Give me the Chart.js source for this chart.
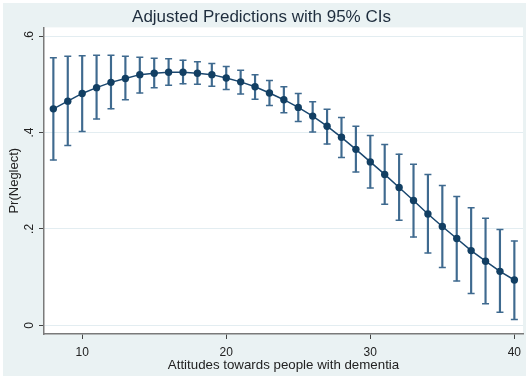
<!DOCTYPE html>
<html>
<head>
<meta charset="utf-8">
<script src="https://cdn.jsdelivr.net/npm/chart.js@4.4.0/dist/chart.umd.min.js"></script>
<style>
  html, body { margin: 0; padding: 0; background: #ffffff; }
  #wrap { width: 529px; height: 378px; }
</style>
</head>
<body>
<div id="wrap"><canvas id="myGraph" width="529" height="378"></canvas></div>
<script>
// attitude score (x) and predicted Pr(Neglect) with 95% CI
const xValues = [8, 9, 10, 11, 12, 13, 14, 15, 16, 17, 18, 19, 20, 21, 22, 23, 24,
  25, 26, 27, 28, 29, 30, 31, 32, 33, 34, 35, 36, 37, 38, 39, 40];
const margin = [0.449, 0.465, 0.481, 0.493, 0.504, 0.512, 0.520, 0.523, 0.525, 0.525,
  0.523, 0.520, 0.513, 0.505, 0.495, 0.482, 0.468, 0.452, 0.434, 0.413, 0.390, 0.365,
  0.339, 0.313, 0.286, 0.259, 0.231, 0.205, 0.180, 0.155, 0.133, 0.112, 0.094];
const upper = [0.555, 0.558, 0.559, 0.560, 0.560, 0.558, 0.556, 0.554, 0.553, 0.550,
  0.547, 0.543, 0.537, 0.529, 0.520, 0.508, 0.495, 0.481, 0.464, 0.448, 0.431, 0.413,
  0.394, 0.375, 0.355, 0.334, 0.313, 0.290, 0.267, 0.244, 0.222, 0.199, 0.175];
const lower = [0.343, 0.373, 0.402, 0.428, 0.449, 0.468, 0.482, 0.493, 0.498, 0.501,
  0.500, 0.496, 0.489, 0.480, 0.469, 0.456, 0.441, 0.423, 0.401, 0.376, 0.348, 0.318,
  0.285, 0.251, 0.218, 0.183, 0.150, 0.120, 0.092, 0.066, 0.045, 0.027, 0.012];

const xTickValues = [10, 20, 30, 40];
const yTickValues = [0, 0.2, 0.4, 0.6];
const yTickLabels = ['0', '.2', '.4', '.6'];

const navy = '#1a476f';
const ciColor = '#3f6a8f';

// stata style backgrounds: light blue graph region, white plot region
const backdrop = {
  id: 'backdrop',
  beforeDraw(chart) {
    const ctx = chart.ctx;
    const a = chart.chartArea;
    ctx.save();
    ctx.fillStyle = '#ffffff';
    ctx.fillRect(0, 0, chart.width, chart.height);
    ctx.fillStyle = '#eaf2f3';
    ctx.fillRect(3, 3, chart.width - 6, chart.height - 5);
    ctx.fillStyle = '#ffffff';
    ctx.fillRect(a.left, a.top, a.right - a.left, a.bottom - a.top);
    ctx.restore();
  }
};

const ctx = document.getElementById('myGraph').getContext('2d');
const graph = new Chart(ctx, {
  type: 'line',
  data: {
    datasets: [
      {
        type: 'line',
        data: xValues.map((x, i) => ({ x: x, y: margin[i] })),
        borderColor: navy,
        borderWidth: 1.5,
        pointRadius: 3.7,
        pointBackgroundColor: '#123f63',
        pointBorderWidth: 0,
        tension: 0,
        order: 0,
      },
      {
        type: 'bar',
        data: xValues.map((x, i) => ({ x: x, y: [lower[i], upper[i]] })),
        backgroundColor: ciColor,
        borderWidth: 0,
        barThickness: 1.5,
        order: 1,
      },
      {
        type: 'line',
        showLine: false,
        data: xValues.map((x, i) => ({ x: x, y: upper[i] })),
        pointStyle: 'line',
        pointRadius: 3.5,
        borderColor: ciColor,
        pointBorderWidth: 1.5,
        order: 2,
      },
      {
        type: 'line',
        showLine: false,
        data: xValues.map((x, i) => ({ x: x, y: lower[i] })),
        pointStyle: 'line',
        pointRadius: 3.5,
        borderColor: ciColor,
        pointBorderWidth: 1.5,
        order: 2,
      },
    ],
  },
  options: {
    responsive: false,
    animation: false,
    layout: { padding: { left: 0, right: 6, top: 0, bottom: 0 } },
    plugins: {
      legend: { display: false },
      tooltip: { enabled: false },
      title: {
        display: true,
        text: 'Adjusted Predictions with 95% CIs',
        color: '#1e2d3d',
        font: { family: 'Liberation Sans', size: 17, weight: 'normal' },
        padding: { top: 7, bottom: 0 },
      },
    },
    scales: {
      x: {
        type: 'linear',
        min: 7.35,
        max: 40.6,
        offset: false,
        afterBuildTicks: (scale) => { scale.ticks = xTickValues.map(v => ({ value: v })); },
        afterFit: (scale) => { scale.height = 44; },
        grid: { offset: false, drawOnChartArea: false, drawTicks: true, tickLength: 5, tickColor: '#444444' },
        border: { display: true, color: '#7a7a7a', width: 1.5 },
        ticks: {
          color: '#222222',
          padding: 6,
          maxRotation: 0,
          font: { family: 'Liberation Sans', size: 12 },
        },
        title: {
          display: true,
          text: 'Attitudes towards people with dementia',
          color: '#222222',
          font: { family: 'Liberation Sans', size: 13.3 },
          padding: { top: 5, bottom: 5 },
        },
      },
      y: {
        type: 'linear',
        min: -0.018,
        max: 0.618,
        afterBuildTicks: (scale) => { scale.ticks = yTickValues.map(v => ({ value: v })); },
        afterFit: (scale) => { scale.width = 44; },
        grid: { color: '#e3edf1', lineWidth: 1, drawTicks: true, tickLength: 5, tickColor: '#444444' },
        border: { display: true, color: '#7a7a7a', width: 1.5 },
        ticks: {
          color: '#222222',
          padding: 4,
          minRotation: 90,
          maxRotation: 90,
          crossAlign: 'center',
          font: { family: 'Liberation Sans', size: 12 },
          callback: (v) => yTickLabels[yTickValues.indexOf(v)],
        },
        title: {
          display: true,
          text: 'Pr(Neglect)',
          color: '#222222',
          font: { family: 'Liberation Sans', size: 13 },
          padding: { top: 7, bottom: 7 },
        },
      },
    },
  },
  plugins: [backdrop],
});
</script>
</body>
</html>
